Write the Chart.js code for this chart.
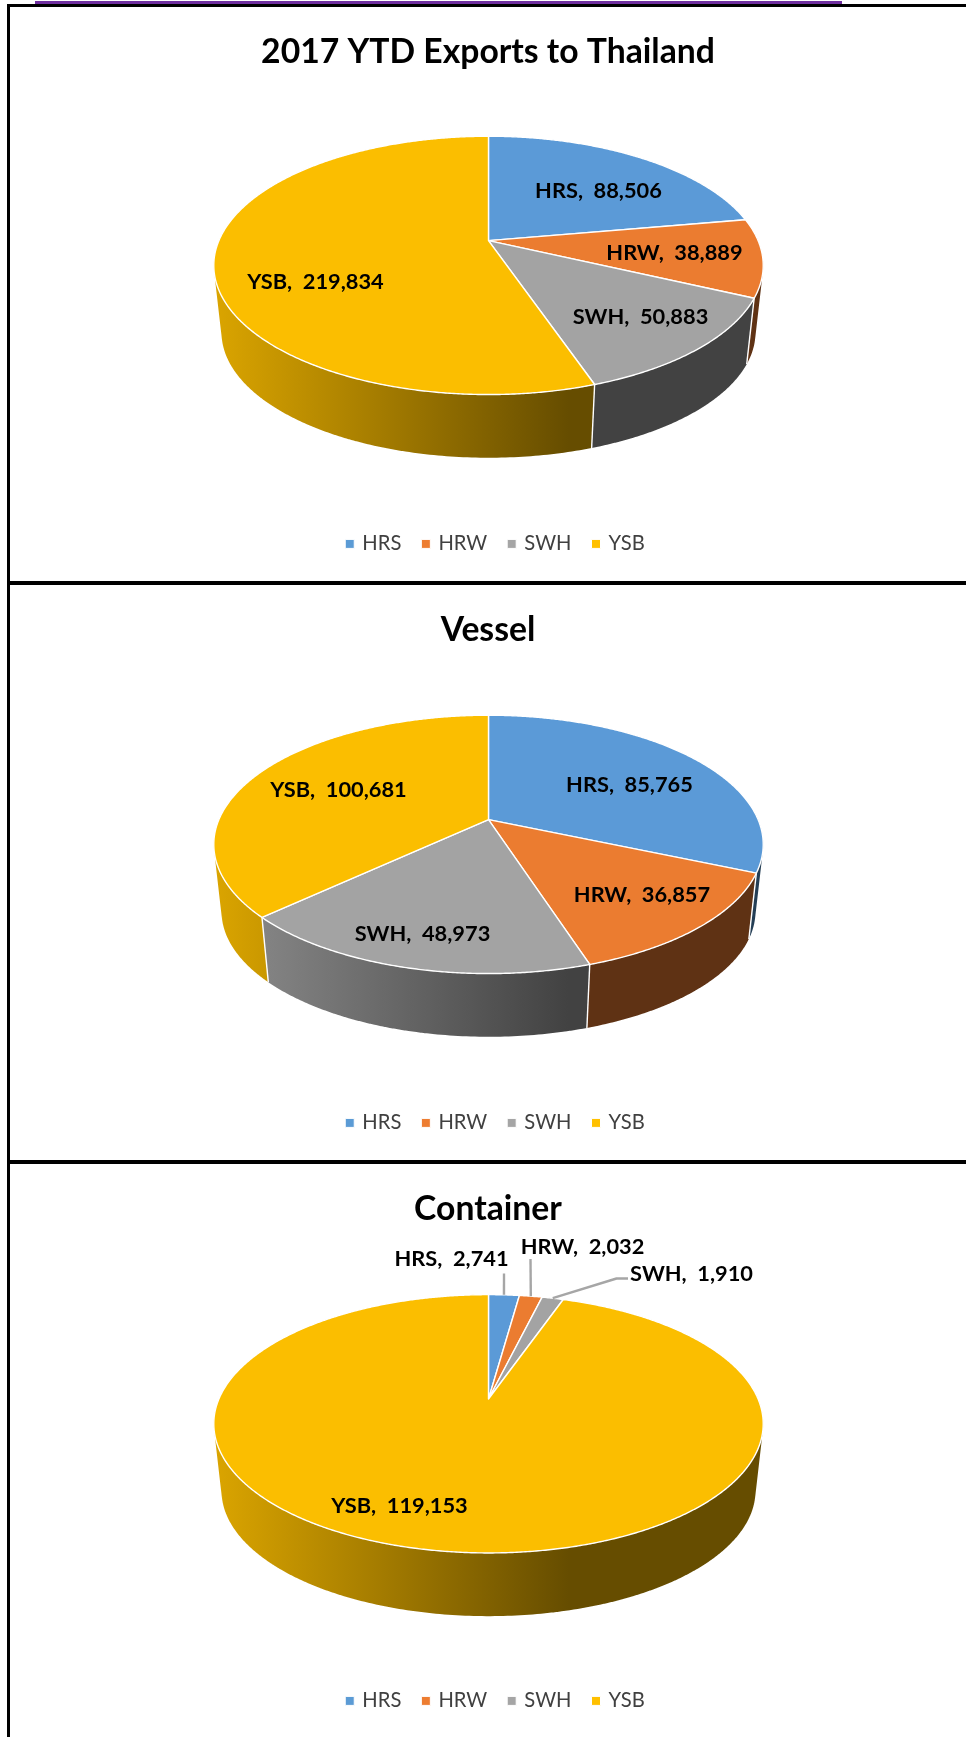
<!DOCTYPE html>
<html>
<head>
<meta charset="utf-8">
<script src="https://cdn.jsdelivr.net/npm/chart.js@4/dist/chart.umd.js"></script>
<style>
html,body{margin:0;padding:0;background:#fff;width:966px;height:1737px;overflow:hidden}
.panel{position:absolute;left:10px;width:956px;filter:blur(0.45px)}
canvas{display:block}
.rule{position:absolute;background:#000}
</style>
</head>
<body>
<div class="rule" style="left:35px;top:1px;width:807px;height:3px;background:#7030A0"></div>
<div class="rule" style="left:7px;top:4px;width:959px;height:2.5px"></div>
<div class="rule" style="left:7px;top:4px;width:2.5px;height:1733px"></div>
<div class="rule" style="left:8px;top:581px;width:958px;height:4px"></div>
<div class="rule" style="left:8px;top:1160px;width:958px;height:4px"></div>
<div class="panel" style="top:7px;height:574px"><canvas id="c0" width="956" height="574"></canvas></div>
<div class="panel" style="top:586px;height:574px"><canvas id="c1" width="956" height="574"></canvas></div>
<div class="panel" style="top:1164px;height:573px"><canvas id="c2" width="956" height="573"></canvas></div>
<script>
const categories = ["HRS", "HRW", "SWH", "YSB"];
const totalValues = [88506, 38889, 50883, 219834];
const vesselValues = [85765, 36857, 48973, 100681];
const containerValues = [2741, 2032, 1910, 119153];
const titles = ["2017 YTD Exports to Thailand", "Vessel", "Container"];
const colors = ["#5B9BD5", "#ED7D31", "#A5A5A5", "#FFC000"];
const topColors = ["#5B9AD7", "#EB7C30", "#A3A3A3", "#FBBE00"];

/* Perspective of the tilted disc (style only, in pixels) */
const A = 269.6, B = 124.4, K = 0.192, FOOT_SCALE = 0.972, DEPTH = 67.5;
const apexY = [233.6, 233.6, 235];
const titlePadTop = [25, 24, 25];
const legendPadBottom = [17, 17, 16];
const legendShift = 8;
const labelOffsets = [
  [[110,-50],[186,12],[152,76],[-173,41]],
  [[141,-35],[153.5,75],[-66,114],[-150,-30]],
  [[-37,-140],[94,-152],[203,-125],[-89,107]]
];
const leaders = [null, null, [[[15.5,-125.5]], [[42,-140]], [[128,-120.5],[139.5,-120.5]], null]];

function shade(hex, f){
  const n = parseInt(hex.slice(1),16);
  return `rgb(${Math.round((n>>16&255)*f)},${Math.round((n>>8&255)*f)},${Math.round((n&255)*f)})`;
}
function proj(a){
  const u = Math.cos(a), v = Math.sin(a), w = 1 - K*v;
  return [A*u/w, B*v/w];
}
function foot(a){
  const p = proj(a);
  return [p[0]*FOOT_SCALE, p[1]*FOOT_SCALE + DEPTH];
}
const pie3d = {
  id: 'pie3d',
  afterLayout(chart){
    chart.legend.left += legendShift;
    chart.legend.right += legendShift;
  },
  beforeDatasetsDraw(chart, args, opts){
    const ctx = chart.ctx;
    const arcs = chart.getDatasetMeta(0).data;
    const cx = arcs[0].x + 0.5, cy = opts.apexY;
    const data = chart.data.datasets[0].data;
    const STEP = Math.PI/240;
    ctx.save();
    ctx.translate(cx, cy);
    ctx.lineJoin = 'round';
    /* walls, far slices first; each slice's wall is one path of same-winding quads */
    const order = arcs.map((_, i) => i).sort((p, q) =>
      Math.sin((arcs[p].startAngle+arcs[p].endAngle)/2) - Math.sin((arcs[q].startAngle+arcs[q].endAngle)/2));
    for (const i of order){
      const arc = arcs[i];
      const g = ctx.createLinearGradient(-275, 0, 80, 0);
      g.addColorStop(0, shade(colors[i], 0.86));
      g.addColorStop(1, shade(colors[i], 0.40));
      ctx.fillStyle = g;
      ctx.beginPath();
      for (let a = arc.startAngle; a < arc.endAngle; a += STEP){
        const b = Math.min(a+STEP*1.05, arc.endAngle);
        if (Math.sin(a) < -0.05 && Math.sin(b) < -0.05) continue;
        let q = [proj(a), proj(b), foot(b), foot(a)];
        let area = 0;
        q.forEach((p, k) => { const n = q[(k+1)%4]; area += p[0]*n[1]-n[0]*p[1]; });
        if (area < 0) q = q.reverse();
        ctx.moveTo(q[0][0],q[0][1]);
        ctx.lineTo(q[1][0],q[1][1]); ctx.lineTo(q[2][0],q[2][1]); ctx.lineTo(q[3][0],q[3][1]);
        ctx.closePath();
      }
      ctx.fill('nonzero');
    }
    /* wall separators */
    ctx.strokeStyle = '#fff'; ctx.lineWidth = 1.4;
    for (const arc of arcs){
      const a = arc.endAngle;
      if (Math.sin(a) <= 0.1) continue;
      const p = proj(a), s = foot(a);
      ctx.beginPath(); ctx.moveTo(p[0],p[1]); ctx.lineTo(s[0],s[1]); ctx.stroke();
    }
    /* top face */
    arcs.forEach((arc, i) => {
      ctx.beginPath();
      ctx.moveTo(0,0);
      for (let a = arc.startAngle; a < arc.endAngle; a += STEP/2){
        const p = proj(a); ctx.lineTo(p[0],p[1]);
      }
      const e = proj(arc.endAngle); ctx.lineTo(e[0],e[1]);
      ctx.closePath();
      ctx.fillStyle = topColors[i];
      ctx.fill();
      ctx.strokeStyle = '#fff'; ctx.lineWidth = 1.4;
      ctx.stroke();
    });
    /* leader lines */
    if (opts.leaders) opts.leaders.forEach((pts, i) => {
      if (!pts) return;
      const m = proj((arcs[i].startAngle+arcs[i].endAngle)/2);
      ctx.beginPath(); ctx.moveTo(m[0],m[1]);
      pts.forEach(p => ctx.lineTo(p[0],p[1]));
      ctx.strokeStyle = '#A6A6A6'; ctx.lineWidth = 2.4; ctx.stroke();
    });
    /* data labels */
    ctx.fillStyle = '#000';
    ctx.font = 'bold 21.8px Lato, sans-serif';
    ctx.textAlign = 'center'; ctx.textBaseline = 'middle';
    arcs.forEach((arc, i) => {
      const t = chart.data.labels[i] + ',  ' + data[i].toLocaleString('en-US');
      ctx.fillText(t, opts.labelOffsets[i][0], opts.labelOffsets[i][1]);
    });
    ctx.restore();
    return false;
  }
};
[totalValues, vesselValues, containerValues].forEach((vals, n) => {
  new Chart(document.getElementById('c'+n), {
    type: 'pie',
    plugins: [pie3d],
    data: { labels: categories, datasets: [{ data: vals, backgroundColor: colors, borderColor: '#fff', borderWidth: 1 }] },
    options: {
      responsive: false, animation: false, events: [],
      layout: { padding: { bottom: legendPadBottom[n] } },
      plugins: {
        tooltip: { enabled: false },
        title: { display: true, text: titles[n], color: '#000',
          font: { family: 'Lato, sans-serif', size: 33.7, weight: 'bold' },
          padding: { top: titlePadTop[n], bottom: 10 } },
        legend: { display: true, position: 'bottom',
          labels: { usePointStyle: true, pointStyle: 'rect', boxWidth: 5, boxHeight: 9, padding: 22,
            color: '#404040', font: { family: 'Lato, sans-serif', size: 20.2 } } },
        pie3d: { apexY: apexY[n], labelOffsets: labelOffsets[n], leaders: leaders[n] }
      }
    }
  });
});
</script>
</body>
</html>
